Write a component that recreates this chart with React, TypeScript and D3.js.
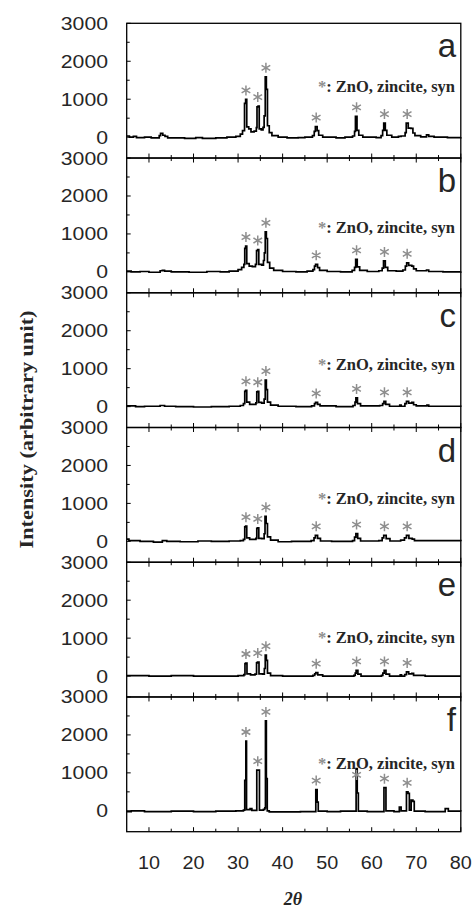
import React from "react";
import * as d3 from "d3";

// Axis ticks and labels
const TWO_THETA_TICKS = [10, 20, 30, 40, 50, 60, 70, 80];
const TWO_THETA_MINOR = [15, 25, 35, 45, 55, 65, 75];
const INTENSITY_TICKS = [0, 1000, 2000, 3000];
const INTENSITY_MINOR = [500, 1500, 2500];
const PANEL_LETTERS = ["a", "b", "c", "d", "e", "f"];
// ZnO (zincite) reflections marked with an asterisk
const ZNO_PEAKS = [31.77, 34.42, 36.25, 47.54, 56.6, 62.86, 67.96];
const PHASE_NOTE = ": ZnO, zincite, syn";

type Pt = [number, number];

// XRD patterns: [2θ, intensity]
const patternA: Pt[] = [
  [5, 30], [5.6, 0], [6.5, 20], [7.2, -10], [9, 0], [10.5, -20], [12.3, 40], [12.6, 100],
  [13.1, 50], [13.6, 20], [14.2, -20], [18, -30], [20.5, -10], [22, -30], [25, -20],
  [27.5, 0], [29.5, 20], [30.5, 80], [31.0, 170], [31.45, 890], [31.7, 995], [31.95, 270],
  [32.4, 220], [32.9, 140], [33.6, 160], [34.1, 250], [34.25, 800], [34.5, 820], [34.75, 220],
  [35.2, 190], [35.6, 260], [35.85, 560], [36.1, 1590], [36.35, 1260], [36.6, 300], [37.0, 120],
  [37.6, 40], [39, 0], [41, -20], [43.5, -10], [45, 0], [46.7, 40], [47.1, 150], [47.35, 280],
  [47.75, 170], [48.1, 50], [49, 0], [52, -20], [54, 0], [55.7, 30], [56.15, 150], [56.35, 550],
  [56.7, 180], [57.1, 50], [58, 0], [61, -10], [62.1, 40], [62.45, 180], [62.7, 370], [63.05, 180],
  [63.4, 50], [64.5, 0], [66, 20], [66.6, 30], [67.5, 120], [67.75, 370], [68.2, 240], [68.8, 230],
  [69.25, 110], [69.7, 40], [71, 10], [72.3, 60], [72.8, 20], [74, 0], [77, -10], [80, 0],
];

const patternB: Pt[] = [
  [5, 20], [6, 0], [8, 10], [10, -10], [12.5, 30], [13, 40], [13.5, 20], [15, 0], [19, -10],
  [23, 10], [26, 0], [28, 20], [30, 60], [30.8, 120], [31.3, 200], [31.5, 620], [31.7, 680],
  [31.95, 220], [32.5, 150], [33.2, 140], [33.9, 200], [34.15, 560], [34.4, 590], [34.65, 200],
  [35.3, 180], [35.7, 300], [35.9, 500], [36.1, 1055], [36.35, 880], [36.6, 250], [37.1, 100],
  [38, 40], [40, 10], [43, 0], [45.5, 20], [46.8, 60], [47.15, 150], [47.4, 200], [47.85, 110],
  [48.3, 40], [50, 10], [53, 0], [55.6, 40], [56.15, 120], [56.4, 330], [56.75, 130], [57.3, 40],
  [59, 10], [61.6, 30], [62.35, 100], [62.65, 290], [63.05, 120], [63.6, 30], [65.5, 20], [67, 50],
  [67.55, 150], [67.85, 240], [68.3, 170], [69.0, 150], [69.4, 80], [70, 30], [72.3, 50],
  [72.8, 10], [76, 0], [80, 10],
];

const patternC: Pt[] = [
  [5, 20], [7, 0], [9, 10], [12.5, 30], [13.5, 10], [16, 0], [20, -10], [24, 0], [28, 10],
  [30.5, 30], [31.2, 80], [31.5, 400], [31.7, 430], [31.95, 120], [32.6, 60], [33.4, 60],
  [34.0, 100], [34.2, 390], [34.4, 405], [34.65, 110], [35.3, 90], [35.85, 200], [36.1, 700],
  [36.35, 450], [36.6, 120], [37.3, 40], [39, 10], [43, 0], [46.5, 20], [47.15, 80], [47.4, 110],
  [47.85, 60], [48.4, 20], [52, 0], [55.8, 30], [56.25, 120], [56.45, 230], [56.8, 80], [57.5, 20],
  [61.8, 30], [62.45, 80], [62.75, 140], [63.15, 60], [64, 10], [66.3, 40], [66.6, 10], [67.45, 80],
  [67.8, 140], [68.3, 90], [69.0, 110], [69.4, 50], [70, 20], [72.4, 40], [72.8, 10], [80, 0],
];

const patternD: Pt[] = [
  [5, 60], [5.5, 20], [8, 0], [11, -20], [13, 20], [14, 0], [17, -10], [21, 10], [24, 0],
  [28, 10], [30.5, 20], [31.2, 50], [31.5, 380], [31.7, 400], [31.95, 90], [32.6, 50], [33.5, 50],
  [34.0, 80], [34.2, 340], [34.4, 355], [34.65, 80], [35.3, 70], [35.85, 200], [36.05, 660],
  [36.3, 470], [36.6, 120], [37.3, 30], [39, -10], [42, 0], [46.4, 20], [47.05, 90], [47.35, 160],
  [47.85, 80], [48.5, 10], [51, 0], [55.7, 20], [56.15, 110], [56.45, 205], [56.85, 80], [57.5, 10],
  [61.6, 20], [62.35, 90], [62.7, 160], [63.25, 70], [64.1, 10], [66.5, 30], [67.35, 90], [67.8, 160],
  [68.35, 80], [69.1, 60], [69.6, 20], [72.5, 20], [80, 0],
];

const patternE: Pt[] = [
  [5, 10], [10, 0], [15, 10], [20, 0], [25, 0], [30, 10], [31.3, 40], [31.55, 330], [31.75, 345],
  [32.0, 60], [32.8, 30], [33.8, 50], [34.15, 350], [34.35, 370], [34.7, 60], [35.5, 50],
  [35.9, 200], [36.1, 550], [36.35, 415], [36.6, 80], [37.3, 10], [40, 0], [46.8, 20], [47.2, 60],
  [47.45, 90], [47.9, 30], [49, 0], [56, 20], [56.3, 80], [56.5, 150], [56.9, 50], [57.6, 0],
  [62.2, 20], [62.5, 80], [62.8, 150], [63.2, 50], [64, 0], [66.4, 30], [66.7, 0], [67.4, 40],
  [67.8, 110], [68.3, 60], [69.0, 70], [69.4, 20], [72, 0], [80, 0],
];

const patternF: Pt[] = [
  [5, -20], [6, 0], [9, -20], [15, -10], [20, -20], [25, -10], [29.5, 0], [31.2, 20], [31.5, 800],
  [31.75, 1840], [31.9, 30], [32.7, 60], [33.1, 10], [34.2, 1070], [34.8, 20], [35.7, 40],
  [36.0, 80], [36.15, 2370], [36.35, 850], [36.55, 0], [37, -30], [40, -30], [44, -20],
  [47.45, 560], [47.75, 230], [48.0, -10], [50, -20], [53, -10], [56.5, 1110], [56.75, 470],
  [57.0, -10], [59, -20], [62.75, 610], [63.2, 0], [65, -20], [66.2, 100], [66.6, 0], [67.8, 500],
  [68.15, 460], [68.45, 20], [68.85, 280], [69.25, 250], [69.55, -10], [72, -20], [76.5, 60],
  [77.2, -10], [80, -20],
];

const PATTERNS = [patternA, patternB, patternC, patternD, patternE, patternF];

// Layout
const WIDTH = 475;
const HEIGHT = 909;
const LEFT = 126.7;
const RIGHT = 460.8;
const TOP = 23.3;
const BOTTOM = 831.7;
const NOTE_DY = [69, 75, 77, 76, 81, 72];
const NOTE_RIGHT = 455;
const NOTE_WIDTH = 137;

const SANS = "'Liberation Sans', Arial, sans-serif";
const SERIF = "'Liberation Serif', 'Times New Roman', serif";
const STAR_COLOR = "#8e8e8e";
const TEXT_COLOR = "#262626";

export default function App() {
  const panelH = (BOTTOM - TOP) / PATTERNS.length;
  const x = d3.scaleLinear().domain([5, 80]).range([LEFT, RIGHT]);
  const star = d3.symbol(d3.symbolAsterisk, 70)() as string;

  return (
    <svg
      width={WIDTH}
      height={HEIGHT}
      style={{ position: "absolute", left: 0, top: 0, background: "#fff" }}
    >
      <rect width={WIDTH} height={HEIGHT} fill="#fff" />
      {PATTERNS.map((data, i) => {
        const pTop = TOP + i * panelH;
        const pBot = pTop + panelH;
        const noteY = pTop + NOTE_DY[i];
        const y = d3.scaleLinear().domain([-550, 3000]).range([pBot, pTop]);
        const line = d3
          .line<Pt>()
          .x((d) => x(d[0]))
          .y((d) => y(d[1]))
          .curve(d3.curveStepAfter);
        const stars = ZNO_PEAKS.map((p) => {
          const near = data.filter((d) => d[0] >= p - 0.45 && d[0] <= p + 0.45);
          const top = d3.max(near, (d) => d[1]) ?? 0;
          const sx = x(p);
          let sy = y(top) - 9;
          // keep markers clear of the phase note
          const underNote = sx > NOTE_RIGHT - NOTE_WIDTH && sx < NOTE_RIGHT;
          if (underNote && sy > noteY - 18 && sy < noteY + 6) sy = noteY + 6;
          return { p, sx, sy };
        });
        return (
          <g key={i}>
            <path d={line(data) ?? ""} fill="none" stroke="#000" strokeWidth={1.7} strokeLinejoin="miter" />
            {stars.map((s) => (
              <path
                key={s.p}
                d={star}
                transform={`translate(${s.sx},${s.sy})`}
                fill="none"
                stroke={STAR_COLOR}
                strokeWidth={1.5}
              />
            ))}
            {/* y ticks, inward */}
            {INTENSITY_TICKS.map((t) => (
              <g key={t}>
                <line x1={LEFT} x2={LEFT + 4} y1={y(t)} y2={y(t)} stroke="#000" strokeWidth={1} />
                <text
                  x={108}
                  y={y(t)}
                  dy="0.36em"
                  textAnchor="end"
                  fontFamily={SANS}
                  fontSize={18}
                  fill={TEXT_COLOR}
                  textLength={String(t).length * 11.8}
                  lengthAdjust="spacingAndGlyphs"
                >
                  {t}
                </text>
              </g>
            ))}
            {INTENSITY_MINOR.map((t) => (
              <line key={t} x1={LEFT} x2={LEFT + 3} y1={y(t)} y2={y(t)} stroke="#000" strokeWidth={1} />
            ))}
            {/* x ticks on the bottom edge, pointing up */}
            {TWO_THETA_TICKS.map((t) => (
              <line key={"b" + t} x1={x(t)} x2={x(t)} y1={pBot} y2={pBot - 4.5} stroke="#000" strokeWidth={1} />
            ))}
            {TWO_THETA_MINOR.map((t) => (
              <line key={"bm" + t} x1={x(t)} x2={x(t)} y1={pBot} y2={pBot - 3} stroke="#000" strokeWidth={1} />
            ))}
            {/* x ticks on the top edge, pointing down */}
            {i > 0 &&
              TWO_THETA_TICKS.map((t) => (
                <line key={"t" + t} x1={x(t)} x2={x(t)} y1={pTop} y2={pTop + 4.5} stroke="#000" strokeWidth={1} />
              ))}
            {i > 0 &&
              TWO_THETA_MINOR.map((t) => (
                <line key={"tm" + t} x1={x(t)} x2={x(t)} y1={pTop} y2={pTop + 3} stroke="#000" strokeWidth={1} />
              ))}
            <rect
              x={LEFT}
              y={pTop}
              width={RIGHT - LEFT}
              height={panelH}
              fill="none"
              stroke="#000"
              strokeWidth={1.3}
            />
            <text
              x={456}
              y={pTop + 34}
              textAnchor="end"
              fontFamily={SANS}
              fontSize={33}
              fill={TEXT_COLOR}
            >
              {PANEL_LETTERS[i]}
            </text>
            <text
              x={NOTE_RIGHT}
              y={noteY}
              textAnchor="end"
              fontFamily={SERIF}
              fontWeight="bold"
              fontSize={16}
              fill={TEXT_COLOR}
              textLength={NOTE_WIDTH}
              lengthAdjust="spacingAndGlyphs"
            >
              <tspan fill={STAR_COLOR}>*</tspan>
              {PHASE_NOTE}
            </text>
          </g>
        );
      })}
      {TWO_THETA_TICKS.map((t) => (
        <text
          key={t}
          x={x(t)}
          y={869}
          textAnchor="middle"
          fontFamily={SANS}
          fontSize={18}
          fill={TEXT_COLOR}
          textLength={22}
          lengthAdjust="spacingAndGlyphs"
        >
          {t}
        </text>
      ))}
      <text
        x={293}
        y={905}
        textAnchor="middle"
        fontFamily={SERIF}
        fontWeight="bold"
        fontStyle="italic"
        fontSize={18}
        fill={TEXT_COLOR}
      >
        2θ
      </text>
      <text
        transform={`translate(33,${(TOP + BOTTOM) / 2 + 2}) rotate(-90)`}
        textAnchor="middle"
        fontFamily={SERIF}
        fontWeight="bold"
        fontSize={19}
        fill={TEXT_COLOR}
        textLength={238}
        lengthAdjust="spacingAndGlyphs"
      >
        Intensity (arbitrary unit)
      </text>
    </svg>
  );
}
